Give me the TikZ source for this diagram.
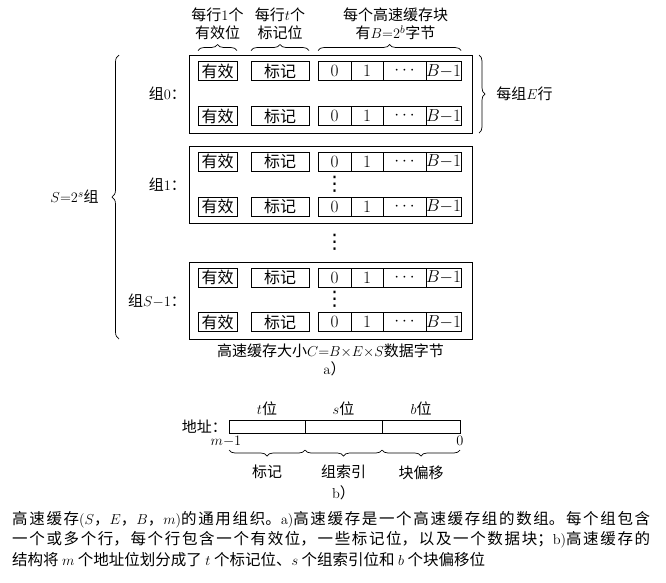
\documentclass[tikz,border=0pt]{standalone}
\usepackage[no-math]{fontspec}
\setmainfont{Noto Sans CJK SC}
\newfontfamily\symfont{DejaVu Sans}
\XeTeXlinebreaklocale "zh"
\XeTeXlinebreakskip=0pt plus 3pt
\usetikzlibrary{positioning, calc, decorations.pathreplacing}
\tikzset{
    cellbox/.style={draw, line width=0.9pt, inner sep=0pt, outer sep=0pt, minimum height=19pt, font=\fontsize{16}{18}\selectfont},
    groupbox/.style={draw, line width=0.9pt, minimum width=283pt, minimum height=78pt, inner sep=0pt, outer sep=0pt},
    fieldbox/.style={draw, line width=0.8pt, minimum height=13pt, inner sep=0pt, outer sep=0pt},
    txt/.style={inner sep=0pt, align=center, font=\fontsize{15}{18}\selectfont},
    bracedeco/.style={decorate, decoration={brace, amplitude=6pt}, line width=0.7pt},
    dotsnode/.style={inner sep=0pt, font=\symfont\fontsize{20}{20}\selectfont}
}

\begin{document}
\begin{tikzpicture}[x=1pt, y=1pt]
    \useasboundingbox (0,0) rectangle (666,-582);
    % cache sets
    \node [groupbox] (g0) at (330.5,-94) {};
    \node [groupbox, minimum height=77pt] (g1) at (330.5,-184.5) {};
    \node [groupbox, minimum height=77pt] (gS) at (330.5,-300.5) {};
    % cache lines
    \foreach \r/\y in {1/71, 2/116, 3/161.5, 4/206.5, 5/277.5, 6/322} {
        \node [cellbox, minimum width=39pt] (v\r) at (217.5,-\y) {有效};
        \node [cellbox, minimum width=58pt, right=14pt of v\r] (t\r) {标记};
        \node [cellbox, minimum width=33pt, right=9pt of t\r] (a\r) {$0$};
        \node [cellbox, minimum width=32pt, right=0pt of a\r] (b\r) {$1$};
        \node [cellbox, minimum width=43pt, right=0pt of b\r] (c\r) {$\cdots$};
        \node [cellbox, minimum width=33pt, right=0pt of c\r] (d\r) {$B{-}1$};
    }
    \node [dotsnode] (vd1) at ($(a3)!0.5!(a4)$) {⋮};
    \node [dotsnode] (vd2) at ($(a4.south)!0.5!(a5.north)$) {⋮};
    \node [dotsnode] (vd3) at ($(a5)!0.5!(a6)$) {⋮};
    \node [txt, left=3pt of g0] (l0) {组$0$：};
    \node [txt, left=3pt of g1] (l1) {组$1$：};
    \node [txt, left=3pt of gS] (lS) {组$S{-}1$：};
    % braces
    \draw [bracedeco] ([yshift=11pt]v1.north west) -- node [txt, above=10pt] (hv) {每行$1$个\\有效位} ([yshift=11pt]v1.north east);
    \draw [bracedeco] ([yshift=11pt]t1.north west) -- node [txt, above=10pt] (ht) {每行$t$个\\标记位} ([yshift=11pt]t1.north east);
    \draw [bracedeco] ([yshift=11pt]a1.north west) -- node [txt, above=10pt, xshift=6pt] (hd) {每个高速缓存块\\有$B{=}2^b$字节} ([yshift=11pt]d1.north east);
    \draw [bracedeco] ([xshift=7pt]g0.north east) -- node [txt, right=17pt] (ep) {每组$E$行} ([xshift=7pt]g0.south east);
    \draw [bracedeco, decoration={amplitude=7pt}] ([xshift=-70pt]gS.south west) -- node [txt, left=20pt] (sn) {$S{=}2^s$组} ([xshift=-70pt]g0.north west);
    \node [txt, below=5pt of gS] (size) {高速缓存大小$C{=}B{\times}E{\times}S$数据字节};
    \node [txt, below=3pt of size, xshift=4pt] (pa) {$\mathrm{a}$）};
    % address
    \node [fieldbox, minimum width=76pt] (ft) at (267,-426.5) {};
    \node [fieldbox, minimum width=77pt, right=0pt of ft] (fs) {};
    \node [fieldbox, minimum width=78pt, right=0pt of fs] (fb) {};
    \node [txt, above=4pt of ft] (tl) {$t$位};
    \node [txt, above=4pt of fs] (sl) {$s$位};
    \node [txt, above=4pt of fb] (bl) {$b$位};
    \node [txt, left=2pt of ft] (addr) {地址：};
    \node [txt, below=3pt of ft.south west, xshift=-3pt] (mhi) {$m{-}1$};
    \node [txt, below=3pt of fb.south east] (mlo) {$0$};
    \draw [bracedeco] ([yshift=-17pt]ft.south east) -- node [txt, below=15pt] (tg) {标记} ([yshift=-17pt]ft.south west);
    \draw [bracedeco] ([yshift=-17pt]fs.south east) -- node [txt, below=15pt] (si) {组索引} ([yshift=-17pt]fs.south west);
    \draw [bracedeco] ([yshift=-17pt]fb.south east) -- node [txt, below=15pt] (bo) {块偏移} ([yshift=-17pt]fb.south west);
    \node [txt, below=6pt of si] (pb) {$\mathrm{b}$）};
    % caption
    \node [txt, text width=638pt, align=justify, font=\fontsize{15.5}{20.5}\selectfont, anchor=north west] (cap) at (12,-511) {\tolerance=9999 高速缓存$(S$，$E$，$B$，$m)$的通用组织。$\mathrm{a})$高速缓存是一个高速缓存组的数组。每个组包含\break
        一个或多个行，每个行包含一个有效位，一些标记位，以及一个数据块；$\mathrm{b})$高速缓存的\break
        结构将 $m$ 个地址位划分成了 $t$ 个标记位、$s$ 个组索引位和 $b$ 个块偏移位};
\end{tikzpicture}
\end{document}
